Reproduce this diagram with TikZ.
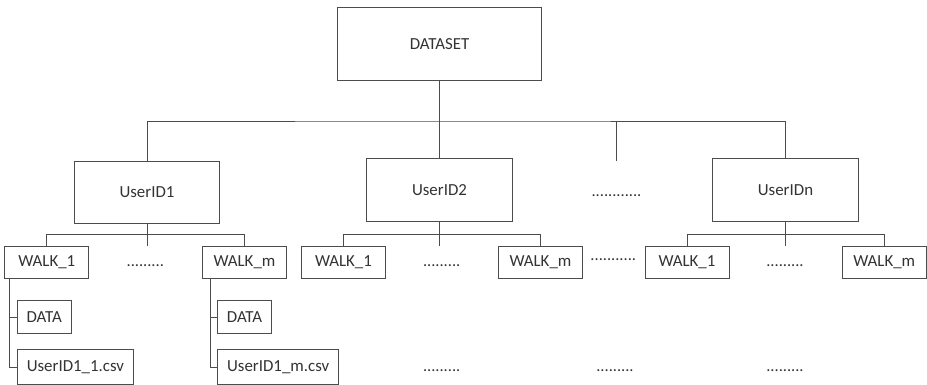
\documentclass[tikz,border=0pt]{standalone}
\usepackage{fontspec}
\setmainfont{Carlito}
\usetikzlibrary{positioning, calc}

\tikzset{
    box/.style={draw=black!70, line width=0.7pt, text=black!80, font=\fontsize{12}{14}\selectfont, inner sep=0pt, align=center},
    rootbox/.style={box, minimum width=5.075cm, minimum height=1.825cm},
    userbox/.style={box, minimum width=3.625cm, minimum height=1.55cm},
    walkbox/.style={box, minimum width=2.1cm, minimum height=0.8cm},
    databox/.style={box, anchor=west, minimum width=1.35cm, minimum height=0.83cm},
    filebox/.style={box, anchor=west, inner xsep=0.24cm, minimum height=0.87cm},
    link/.style={draw=black!70, line width=0.7pt},
    dots/.style={text=black!80, font=\fontsize{11.7}{14}\selectfont, inner sep=0pt}
}

\begin{document}
\begin{tikzpicture}[x=0.025cm, y=-0.025cm]
    \useasboundingbox (0,0) rectangle (927,385);

    % root and users
    \node[rootbox] (ds) at (439.5,43.8) {DATASET};
    \node[userbox] (u1) at (147,192.5) {UserID1};
    \node[userbox] (u2) at (439.5,190) {UserID2};
    \node[userbox] (un) at (785.5,190) {UserIDn};
    \node[dots] (udots) at (616.5,195.7) {............};

    \coordinate (hub) at (439.5,121);
    \coordinate (more) at (616.7,161);
    \draw[link] (ds.south) -- (u2.north);
    \draw[link] (u1.north) |- (hub) -| (un.north);
    \draw[link] (more |- hub) -- (more);

    % walks of each user
    \node[walkbox] (w11) at (46.8,262) {WALK\_1};
    \node[walkbox] (w1m) at (244.5,262) {WALK\_m};
    \node[walkbox] (w21) at (343.5,262) {WALK\_1};
    \node[walkbox] (w2m) at (540.5,262) {WALK\_m};
    \node[walkbox] (wn1) at (687,262) {WALK\_1};
    \node[walkbox] (wnm) at (884.3,262) {WALK\_m};

    \node[dots] (w1dots) at (145.3,265.7) {.........};
    \node[dots] (w2dots) at (441.7,266) {.........};
    \node[dots] (wndots) at (785,266) {.........};
    \node[dots] (wdots) at (613.3,260) {...........};

    \draw[link] (u1.south) -- (u1.south |- w11.north);
    \draw[link] (w11.north) -- ++(0,-11) -| (w1m.north);
    \draw[link] (u2.south) -- (u2.south |- w21.north);
    \draw[link] (w21.north) -- ++(0,-11) -| (w2m.north);
    \draw[link] (un.south) -- (un.south |- wn1.north);
    \draw[link] (wn1.north) -- ++(0,-11) -| (wnm.north);

    % contents of the first user's walks
    \node[databox] (d11) at (16.7,317.3) {DATA};
    \node[filebox] (f11) at (16.7,367.3) {UserID1\_1.csv};
    \node[databox] (d1m) at (217,317.3) {DATA};
    \node[filebox] (f1m) at (217,367.3) {UserID1\_m.csv};

    \coordinate (t11) at ($(w11.south west)+(5.2,0)$);
    \coordinate (t1m) at ($(w1m.south west)+(8.2,0)$);
    \draw[link] (t11) |- (f11.west);
    \draw[link] (t11 |- d11.west) -- (d11.west);
    \draw[link] (t1m) |- (f1m.west);
    \draw[link] (t1m |- d1m.west) -- (d1m.west);

    \node[dots] (f2dots) at (441.7,370.7) {.........};
    \node[dots] (fdots) at (615,370.7) {.........};
    \node[dots] (fndots) at (785,370.7) {.........};
\end{tikzpicture}
\end{document}
